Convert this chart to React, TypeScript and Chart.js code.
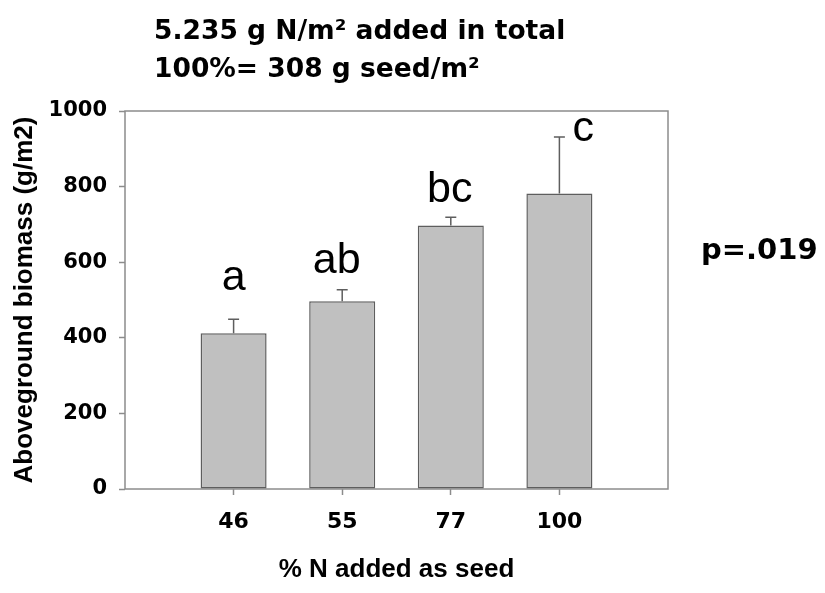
import { useEffect, useRef } from 'react';
import { Chart, registerables } from 'chart.js';

Chart.register(...registerables);

// ---- data ----
const categories = ['46', '55', '77', '100'];
const biomass = [412, 497, 697, 782];
const stdErr = [37, 30, 22, 149];
const sigLetters = ['a', 'ab', 'bc', 'c'];
const sigLetterY = [526, 571, 759, 921];
const sigLetterX = [1, 1.95, 2.99, 4.22];
const yTicks = [0, 200, 400, 600, 800, 1000];
const titleLines = ['5.235 g N/m\u00B2 added in total', '100%= 308 g seed/m\u00B2'];
const pValue = 'p=.019';
const xTitle = '% N added as seed';
const yTitle = 'Aboveground biomass (g/m2)';

const FRAME = '#8c8c8c';
const BAR_EDGE = '#5e5e5e';
const WIDE = '"DejaVu Sans", sans-serif';
const ARIAL = '"Liberation Sans", Arial, sans-serif';

const decor = {
  id: 'decor',
  beforeDatasetsDraw(chart: any) {
    const { ctx, chartArea: a } = chart;
    ctx.save();
    ctx.strokeStyle = FRAME;
    ctx.lineWidth = 1.5;
    ctx.strokeRect(a.left, a.top, a.right - a.left, a.bottom - a.top);
    ctx.restore();
  },
  afterDatasetsDraw(chart: any) {
    const { ctx } = chart;
    const xs = chart.scales.x;
    const ys = chart.scales.y;
    ctx.save();
    ctx.strokeStyle = BAR_EDGE;
    ctx.lineWidth = 1.5;
    biomass.forEach((v, i) => {
      const x = xs.getPixelForValue(i + 1);
      const y0 = ys.getPixelForValue(v);
      const y1 = ys.getPixelForValue(v + stdErr[i]);
      ctx.beginPath();
      ctx.moveTo(x, y0);
      ctx.lineTo(x, y1);
      ctx.moveTo(x - 5.5, y1);
      ctx.lineTo(x + 5.5, y1);
      ctx.stroke();
    });
    ctx.fillStyle = '#000';
    ctx.font = `43px ${ARIAL}`;
    ctx.textAlign = 'center';
    ctx.textBaseline = 'alphabetic';
    sigLetters.forEach((t, i) => {
      ctx.fillText(t, xs.getPixelForValue(sigLetterX[i]), ys.getPixelForValue(sigLetterY[i]));
    });
    ctx.textAlign = 'left';
    ctx.font = `bold 26.5px ${WIDE}`;
    titleLines.forEach((t, i) => ctx.fillText(t, 154, 38.5 + i * 38));
    ctx.font = `bold 29px ${WIDE}`;
    ctx.fillText(pValue, 701, 259);
    ctx.restore();
  },
};

export default function App() {
  const ref = useRef<HTMLCanvasElement>(null);
  useEffect(() => {
    if (!ref.current) return;
    const chart = new Chart(ref.current, {
      type: 'bar',
      data: {
        datasets: [
          {
            data: biomass.map((v, i) => ({ x: i + 1, y: v })),
            backgroundColor: '#c0c0c0',
            borderColor: BAR_EDGE,
            borderWidth: 1.5,
            borderSkipped: false,
            barPercentage: 0.608,
            categoryPercentage: 1,
          } as any,
        ],
      },
      options: {
        responsive: false,
        animation: false,
        layout: { padding: { left: 0, top: 111, right: 157, bottom: 0 } },
        plugins: {
          legend: { display: false },
          tooltip: { enabled: false },
          title: { display: false },
        },
        scales: {
          x: {
            type: 'linear',
            min: 0,
            max: 5,
            offset: false,
            afterBuildTicks: (s: any) => {
              s.ticks = categories.map((_, i) => ({ value: i + 1 }));
            },
            afterFit: (s: any) => {
              s.height = 104;
            },
            grid: {
              display: true,
              offset: false,
              drawOnChartArea: false,
              drawTicks: true,
              tickLength: 6,
              tickColor: FRAME,
              tickWidth: 1.5,
            },
            border: { display: false },
            ticks: {
              callback: (v: any) => categories[Math.round(Number(v)) - 1] ?? '',
              font: { family: WIDE, weight: 'bold', size: 22 },
              color: '#000',
              padding: 14,
              maxRotation: 0,
              autoSkip: false,
            },
            title: {
              display: true,
              text: xTitle,
              font: { family: ARIAL, weight: 'bold', size: 26 },
              color: '#000',
              padding: { top: 0, bottom: 8 },
            },
          },
          y: {
            min: 0,
            max: 1000,
            afterBuildTicks: (s: any) => {
              s.ticks = yTicks.map((v) => ({ value: v }));
            },
            afterFit: (s: any) => {
              s.width = 125;
            },
            grid: {
              display: true,
              drawOnChartArea: false,
              drawTicks: true,
              tickLength: 6,
              tickColor: FRAME,
              tickWidth: 1.5,
            },
            border: { display: false },
            ticks: {
              callback: (v: any) => String(v),
              font: { family: WIDE, weight: 'bold', size: 21 },
              color: '#000',
              padding: 12,
            },
            title: {
              display: true,
              text: yTitle,
              font: { family: ARIAL, weight: 'bold', size: 26 },
              color: '#000',
              padding: { top: 9, bottom: 0 },
            },
          },
        },
      } as any,
      plugins: [decor],
    });
    return () => chart.destroy();
  }, []);
  return (
    <div style={{ position: 'absolute', left: 0, top: 0, width: 825, height: 593, background: '#fff' }}>
      <canvas ref={ref} width={825} height={593} />
    </div>
  );
}
